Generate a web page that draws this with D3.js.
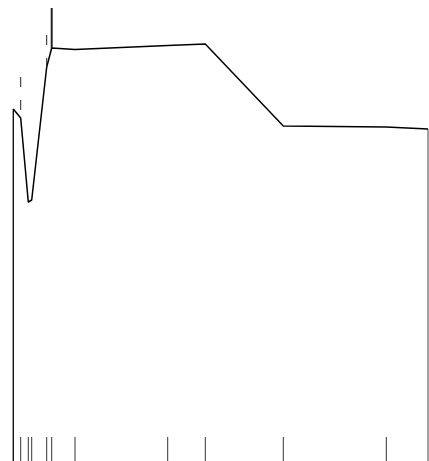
<!DOCTYPE html>
<html>
<head>
<meta charset="utf-8">
<script src="https://cdn.jsdelivr.net/npm/d3@7/dist/d3.min.js"></script>
<style>
  html, body { margin: 0; padding: 0; background: #fff; }
  svg { display: block; }
</style>
</head>
<body>
<div id="chart"></div>
<script>
// Data (arbitrary units)
const xs      = [0, 7.4, 15, 18.4, 33.4, 38.4, 61.7, 154.4, 192, 270, 373, 414.7];
const values  = [352, 343, 259, 261, 394, 413, 411.5, 415.5, 417, 335, 334, 332];
const rugXs   = [7.4, 15, 18.4, 33.4, 38.4, 61.7, 154.4, 192, 270, 373];
const whiskerXs    = [7.4, 33.4, 38.4];
const whiskerLows  = [351, 393, 413];
const whiskerHighs = [384, 429, 453];
const whiskerDashed = [true, true, false];

const W = 429, H = 461;
const svg = d3.select("#chart").append("svg").attr("width", W).attr("height", H);

const x = d3.scaleLinear().domain([0, 414.7]).range([13.3, 428]);
const y = d3.scaleLinear().domain([0, 461]).range([461, 0]);

const pts = xs.map((d, i) => ({x: d, v: values[i]}));

// left and right edges
svg.append("line")
  .attr("x1", x(xs[0])).attr("x2", x(xs[0]))
  .attr("y1", y(values[0])).attr("y2", y(-2))
  .attr("stroke", "#111").attr("stroke-width", 1.4);
svg.append("line")
  .attr("x1", x(xs[xs.length-1])).attr("x2", x(xs[xs.length-1]))
  .attr("y1", y(values[values.length-1])).attr("y2", y(-2))
  .attr("stroke", "#444").attr("stroke-width", 1);

// main line
svg.append("path")
  .datum(pts)
  .attr("fill", "none")
  .attr("stroke", "#000")
  .attr("stroke-width", 1.5)
  .attr("stroke-linejoin", "round")
  .attr("d", d3.line().x(d => x(d.x)).y(d => y(d.v)));

// whiskers
whiskerXs.forEach((wx, i) => {
  svg.append("line")
    .attr("x1", x(wx)).attr("x2", x(wx))
    .attr("y1", y(whiskerLows[i])).attr("y2", y(whiskerHighs[i]))
    .attr("stroke", whiskerDashed[i] ? "#222" : "#222")
    .attr("stroke-width", whiskerDashed[i] ? 1 : 2)
    .attr("stroke-dasharray", whiskerDashed[i] ? "10,13" : null);
});

// rug ticks
svg.append("g").selectAll("line")
  .data(rugXs)
  .join("line")
  .attr("x1", d => x(d)).attr("x2", d => x(d))
  .attr("y1", y(24)).attr("y2", y(-2))
  .attr("stroke", "#333")
  .attr("stroke-width", 1);
</script>
</body>
</html>
